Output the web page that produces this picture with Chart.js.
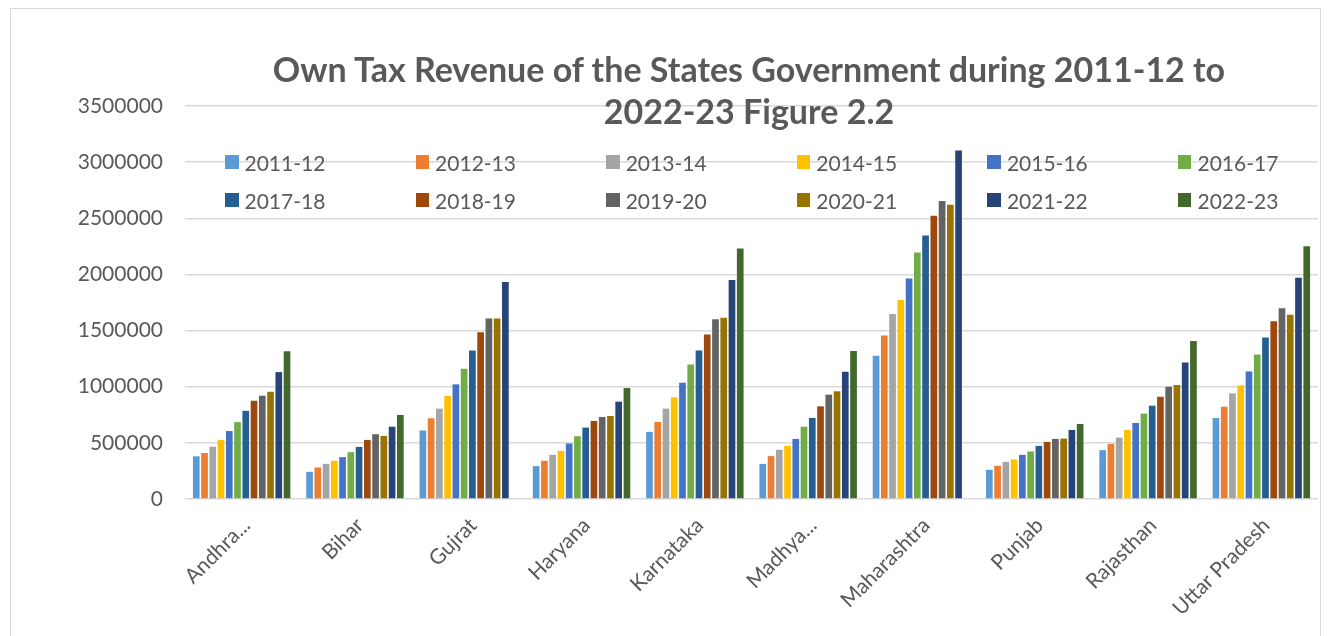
<!DOCTYPE html>
<html>
<head>
<meta charset="utf-8">
<title>Own Tax Revenue of the States Government</title>
<script src="https://cdn.jsdelivr.net/npm/chart.js@4"></script>
<style>
    html, body { margin: 0; padding: 0; background: #fff; }
    #wrap { position: relative; width: 1327px; height: 636px; overflow: hidden; font-family: Lato, "Open Sans", sans-serif; }
    #frame { position: absolute; left: 10px; top: 8px; width: 1311px; height: 700px; border: 1px solid #d9d9d9; box-sizing: border-box; pointer-events: none; }
    #chart-box { position: absolute; left: 0; top: 0; width: 1327px; height: 636px; }
    #chart-title { position: absolute; left: 249px; width: 1000px; top: 48px; text-align: center; font-weight: 700; font-size: 34px; line-height: 42px; color: #595959; }
    #chart-legend { position: absolute; left: 225px; top: 150px; display: grid; grid-template-columns: repeat(6, 190.6px); grid-auto-rows: 38px; }
    .lg-item { display: flex; align-items: center; height: 24px; font-size: 21px; color: #595959; }
    .lg-box { width: 13.5px; height: 13.5px; margin-right: 6px; }
</style>
</head>
<body>
<div id="wrap">
    <div id="chart-box"><canvas id="tax-chart" width="1327" height="636"></canvas></div>
    <div id="frame"></div>
    <div id="chart-title">Own Tax Revenue of the States Government during 2011-12 to<br>2022-23 Figure 2.2</div>
    <div id="chart-legend"></div>
</div>
<script>
// States on the x axis
const states = ['Andhra...', 'Bihar', 'Gujrat', 'Haryana', 'Karnataka', 'Madhya...', 'Maharashtra', 'Punjab', 'Rajasthan', 'Uttar Pradesh'];

// Year series (one value per state)
const years = ['2011-12', '2012-13', '2013-14', '2014-15', '2015-16', '2016-17', '2017-18', '2018-19', '2019-20', '2020-21', '2021-22', '2022-23'];
const y2011_12 = [380000, 242000, 610000, 293000, 598000, 313000, 1275000, 260000, 435000, 722000];
const y2012_13 = [410000, 281000, 719000, 340000, 687000, 382000, 1456000, 296000, 491000, 822000];
const y2013_14 = [465000, 313000, 805000, 393000, 805000, 438000, 1647000, 331000, 547000, 941000];
const y2014_15 = [525000, 340000, 917000, 429000, 905000, 473000, 1772000, 352000, 615000, 1012000];
const y2015_16 = [605000, 373000, 1021000, 494000, 1036000, 535000, 1964000, 393000, 677000, 1136000];
const y2016_17 = [685000, 417000, 1160000, 559000, 1198000, 644000, 2195000, 423000, 760000, 1287000];
const y2017_18 = [785000, 464000, 1323000, 636000, 1323000, 722000, 2346000, 473000, 831000, 1438000];
const y2018_19 = [875000, 526000, 1485000, 695000, 1465000, 825000, 2523000, 509000, 911000, 1583000];
const y2019_20 = [920000, 577000, 1607000, 731000, 1601000, 929000, 2654000, 535000, 999000, 1698000];
const y2020_21 = [955000, 562000, 1607000, 739000, 1615000, 959000, 2621000, 538000, 1015000, 1642000];
const y2021_22 = [1130000, 644000, 1932000, 867000, 1950000, 1133000, 3103000, 615000, 1216000, 1971000];
const y2022_23 = [1315000, 748000, null, 988000, 2231000, 1319000, null, 668000, 1408000, 2251000];

// Y axis ticks
const yTicks = [0, 500000, 1000000, 1500000, 2000000, 2500000, 3000000, 3500000];

// Office palette colours for the series
const colors = ['#5b9bd5', '#ed7d31', '#a5a5a5', '#ffc000', '#4472c4', '#70ad47',
                '#255e91', '#9e480e', '#636363', '#997300', '#264478', '#43682b'];

const seriesValues = [y2011_12, y2012_13, y2013_14, y2014_15, y2015_16, y2016_17,
                      y2017_18, y2018_19, y2019_20, y2020_21, y2021_22, y2022_23];

// Build legend from the series
function buildLegend() {
    const legend = document.getElementById('chart-legend');
    years.forEach(function(label, i) {
        const item = document.createElement('div');
        item.className = 'lg-item';
        const box = document.createElement('span');
        box.className = 'lg-box';
        box.style.background = colors[i];
        item.appendChild(box);
        item.appendChild(document.createTextNode(label));
        legend.appendChild(item);
    });
}

// Initialize bar chart
function initTaxChart() {
    const ctx = document.getElementById('tax-chart');
    new Chart(ctx, {
        type: 'bar',
        data: {
            labels: states,
            datasets: years.map(function(label, i) {
                return {
                    label: label,
                    data: seriesValues[i],
                    backgroundColor: colors[i],
                    borderWidth: 0,
                    categoryPercentage: 0.874,
                    barPercentage: 0.81
                };
            })
        },
        options: {
            responsive: false,
            animation: false,
            layout: {
                padding: { top: 106, right: 9, left: 0, bottom: 0 }
            },
            plugins: {
                legend: { display: false },
                title: { display: false },
                tooltip: { enabled: false }
            },
            scales: {
                x: {
                    grid: { display: false },
                    border: { display: false },
                    ticks: {
                        autoSkip: false,
                        maxRotation: 45,
                        minRotation: 45,
                        labelOffset: 5,
                        color: '#595959',
                        padding: 6,
                        font: { family: 'Lato', size: 21 }
                    },
                    afterFit: function(scale) {
                        scale.height = 137;
                    }
                },
                y: {
                    min: 0,
                    max: 3500000,
                    afterBuildTicks: function(scale) {
                        scale.ticks = yTicks.map(function(v) { return { value: v }; });
                    },
                    grid: {
                        color: '#d9d9d9',
                        lineWidth: 1.5,
                        drawTicks: false
                    },
                    border: { display: false },
                    ticks: {
                        color: '#595959',
                        padding: 22,
                        font: { family: 'Lato', size: 21 },
                        callback: function(value) {
                            return String(value);
                        }
                    },
                    afterFit: function(scale) {
                        scale.width = 185;
                    }
                }
            }
        }
    });
}

buildLegend();
initTaxChart();
</script>
</body>
</html>
